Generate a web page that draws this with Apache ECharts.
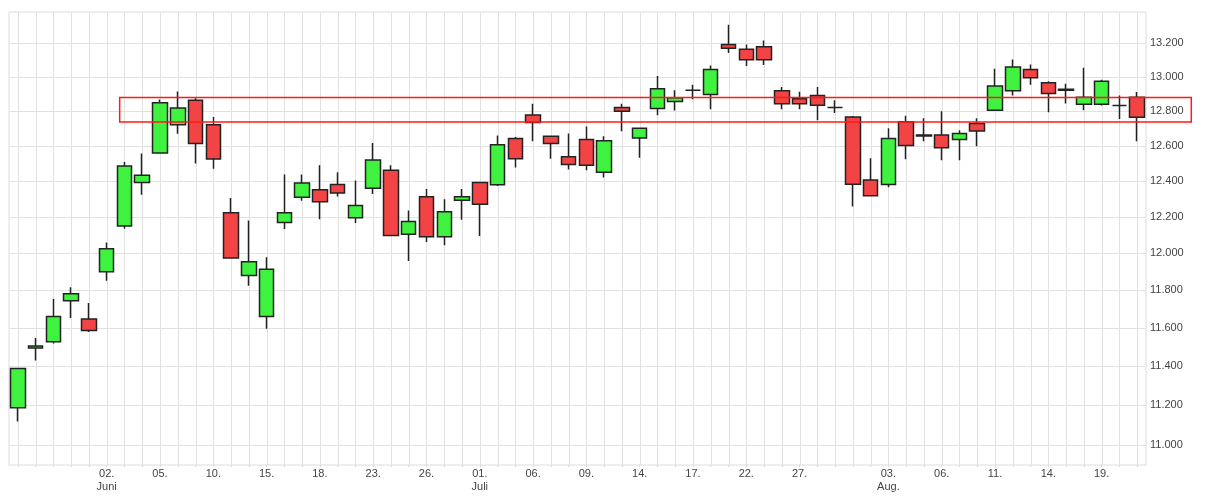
<!DOCTYPE html>
<html><head><meta charset="utf-8">
<script src="https://cdn.jsdelivr.net/npm/echarts@6/dist/echarts.min.js"></script>
<style>html,body{margin:0;padding:0;background:#fff}#c{width:1206px;height:501px}</style>
</head><body><div id="c"></div>
<script>
const dates = ['25.05.','26.05.','27.05.','28.05.','29.05.','02.06.','03.06.','04.06.','05.06.','08.06.','09.06.','10.06.','11.06.','12.06.','15.06.','16.06.','17.06.','18.06.','19.06.','22.06.','23.06.','24.06.','25.06.','26.06.','29.06.','30.06.','01.07.','02.07.','03.07.','06.07.','07.07.','08.07.','09.07.','10.07.','13.07.','14.07.','15.07.','16.07.','17.07.','20.07.','21.07.','22.07.','23.07.','24.07.','27.07.','28.07.','29.07.','30.07.','31.07.','03.08.','04.08.','05.08.','06.08.','07.08.','10.08.','11.08.','12.08.','13.08.','14.08.','17.08.','18.08.','19.08.','20.08.','21.08.'];
const opens  = [11187,11495,11527,11744,11647,11900,12150,12392,12560,12722,12864,12722,12223,11880,11661,12169,12309,12352,12381,12195,12360,12461,12104,12312,12091,12293,12392,12380,12642,12778,12655,12538,12637,12450,12821,12645,12816,12856,12922,12897,13194,13165,13180,12920,12872,12891,12821,12767,12407,12381,12739,12657,12663,12637,12729,12806,12920,13045,12967,12922,12841,12841,12833,12882];
const closes = [11388,11505,11661,11781,11586,12025,12486,12433,12849,12819,12614,12525,11974,11954,11913,12223,12389,12284,12333,12263,12519,12098,12175,12091,12229,12312,12270,12606,12527,12734,12614,12494,12489,12629,12800,12702,12932,12878,12922,13045,13172,13102,13102,12843,12843,12835,12821,12383,12318,12643,12602,12663,12589,12671,12686,12947,13059,12996,12904,12928,12882,12976,12833,12765];
const lows   = [11117,11430,11519,11653,11579,11852,12135,12324,12555,12670,12499,12470,11970,11824,11596,12133,12290,12187,12314,12166,12328,12095,11958,12062,12044,12185,12095,12372,12477,12626,12527,12465,12461,12420,12684,12533,12776,12804,12870,12812,13143,13065,13071,12812,12812,12747,12790,12258,12313,12366,12524,12627,12518,12518,12598,12804,12892,12955,12794,12845,12806,12833,12755,12627];
const highs  = [11391,11547,11753,11817,11732,12059,12508,12556,12868,12915,12875,12767,12305,12180,11978,12437,12437,12490,12450,12404,12616,12490,12236,12356,12299,12356,12395,12659,12651,12843,12660,12671,12712,12655,12843,12705,13006,12922,12955,13069,13313,13194,13218,12942,12913,12942,12864,12772,12530,12702,12773,12759,12800,12690,12759,13049,13104,13075,12976,12961,13055,12984,12892,12912];
const tickLabels = ['','','','','','02.\nJuni','','','05.','','','10.','','','15.','','','18.','','','23.','','','26.','','','01.\nJuli','','','06.','','','09.','','','14.','','','17.','','','22.','','','27.','','','','','03.\nAug.','','','06.','','','11.','','','14.','','','19.','',''];
const yTicks = [11000,11200,11400,11600,11800,12000,12200,12400,12600,12800,13000,13200];
const yMin = 10900, yMax = 13390;
const zoneHigh = 12880, zoneLow = 12737;
const zoneStartIdx = 5.73, zoneEndIdx = 66.05;

const candles = dates.map((d, i) => [opens[i], closes[i], lows[i], highs[i]]);
const font = 'Liberation Sans, Arial, sans-serif';
const chart = echarts.init(document.getElementById('c'));
chart.setOption({
  animation: false,
  backgroundColor: '#fff',
  grid: { left: 9, right: 60, top: 12, bottom: 36, show: true, borderColor: '#dcdcdc', borderWidth: 1 },
  xAxis: {
    type: 'category', data: dates, boundaryGap: true,
    axisLine: { show: false },
    axisTick: { show: true, alignWithLabel: true, interval: 0, length: 2, lineStyle: { color: '#dcdcdc' } },
    splitLine: { show: false },
    axisLabel: { interval: 0, margin: 2, fontSize: 11, lineHeight: 13, color: '#444', fontFamily: font,
      formatter: (v, i) => tickLabels[i] }
  },
  yAxis: {
    type: 'log', logBase: 10, position: 'right', min: yMin, max: yMax,
    axisLine: { show: false },
    axisTick: { show: false, customValues: yTicks },
    splitLine: { show: false },
    axisLabel: { customValues: yTicks, margin: 4, fontSize: 11, color: '#444', fontFamily: font,
      formatter: v => (v / 1000).toFixed(3) }
  },
  series: [{
    type: 'candlestick', data: candles, barWidth: 15, z: 2,
    itemStyle: { color: '#3ff23f', color0: '#f24444', borderColor: '#222', borderColor0: '#222', borderColorDoji: '#222', borderWidth: 1.5 }
  }]
});
// grid lines and zone rectangle, positioned through the axes
const px = i => chart.convertToPixel({ xAxisIndex: 0 }, i);
const py = v => chart.convertToPixel({ yAxisIndex: 0 }, v);
const x0 = px(0);
const band = px(1) - x0;
const gLeft = x0 - band / 2, gRight = px(dates.length - 1) + band / 2;
const gTop = py(yMax), gBottom = py(yMin);
const lineStyle = { stroke: '#e2e2e2', lineWidth: 1 };
const graphics = [];
yTicks.forEach(v => {
  const y = Math.round(py(v)) + 0.5;
  graphics.push({ type: 'line', z: 1, silent: true, shape: { x1: gLeft, y1: y, x2: gRight, y2: y }, style: lineStyle });
});
dates.forEach((d, i) => {
  const x = Math.round(px(i)) + 0.5;
  graphics.push({ type: 'line', z: 1, silent: true, shape: { x1: x, y1: gTop, x2: x, y2: gBottom }, style: lineStyle });
});
const xl = x0 + band * zoneStartIdx, xr = x0 + band * zoneEndIdx;
graphics.push({ type: 'rect', z: 100, silent: true, shape: { x: xl, y: py(zoneHigh), width: xr - xl, height: py(zoneLow) - py(zoneHigh) },
  style: { fill: null, stroke: '#ff1a1a', lineWidth: 1.5 } });
chart.setOption({ graphic: graphics });
</script></body></html>
